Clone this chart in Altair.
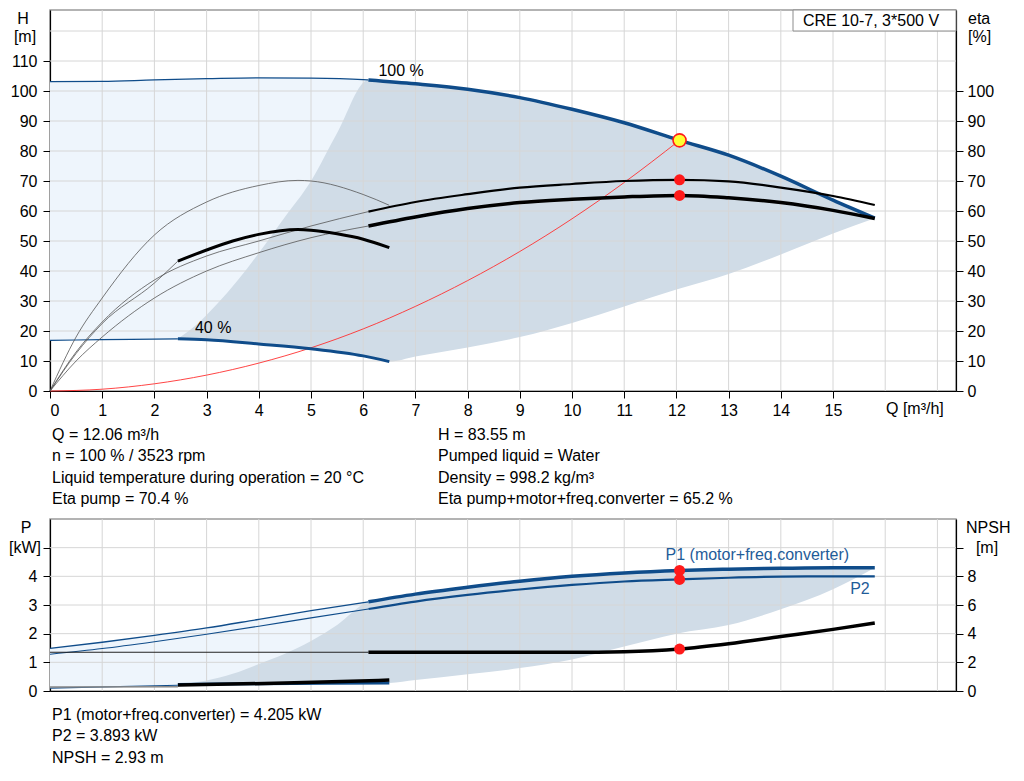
import altair as alt
import pandas as pd

FONT = "Liberation Sans"
BLUE = "#0f4c8a"
BLUE_TXT = "#1f5c99"
LIGHT = "#eef5fc"
DARK = "#d0dce7"
GRID = "#d6d6d6"
RED = "#ff1a1a"

# ---------------- head / efficiency panel ----------------
q_h100_thin = [0, 1, 2, 3, 4, 5, 6, 6.1]
h100_thin = [103.1, 103.2, 103.7, 104.1, 104.4, 104.3, 103.8, 103.7]
q_h100 = [6.1, 7, 8, 9, 10, 11, 12.06, 13, 14, 15, 15.8]
h100 = [103.7, 102.4, 100.6, 97.8, 93.9, 89.4, 83.55, 78.6, 71.6, 63.6, 57.6]
q_h40_thin = [0, 1, 2, 2.45]
h40_thin = [16.9, 17.1, 17.3, 17.4]
q_h40 = [2.45, 3, 4, 5, 6, 6.5]
h40 = [17.4, 17.1, 15.7, 14.1, 11.7, 9.8]

q_sys = [0, 1, 2, 3, 4, 5, 6, 7, 8, 9, 10, 11, 12.06]
h_sys = [0, 0.6, 2.4, 5.3, 9.3, 14.4, 20.7, 28.2, 36.8, 46.5, 57.4, 69.5, 83.55]

q_eta_low = [0, 0.5, 1, 2, 3, 4, 5, 6.1]
eta_p100_thin = [0, 13, 23, 37, 45, 50, 55, 59.8]
eta_t100_thin = [0, 10, 18, 31, 40, 46.1, 51.1, 55]
q_eta = [6.1, 7, 8, 9, 10, 11, 12.06, 13, 14, 15, 15.8]
eta_p100 = [59.8, 63, 65.6, 67.8, 69.0, 70.0, 70.4, 69.9, 67.8, 65.0, 62.0]
eta_t100 = [55, 58, 60.8, 62.8, 63.9, 64.7, 65.2, 64.4, 62.8, 60.2, 57.5]
q_eta40_pump = [0, 0.5, 1, 2, 3, 4, 4.75, 5, 6, 6.5]
eta_p40 = [0, 18, 31, 52, 63, 68.5, 70.2, 70, 65.5, 61.9]
q_eta40_thin = [0, 0.5, 1, 2, 2.45]
eta_t40_thin = [0, 12.5, 22.5, 36, 43.3]
q_eta40 = [2.45, 3, 3.5, 4, 4.75, 5, 5.5, 6, 6.5]
eta_t40 = [43.3, 47, 50, 52.2, 53.8, 53.6, 52.4, 50.6, 47.8]

light_q = [0, 1, 2, 3, 4, 5, 6, 6.1]
light_top = [103.1, 103.2, 103.7, 104.1, 104.4, 104.3, 103.8, 103.7]
light_bot = [16.9, 17.1, 17.3, 17.1, 15.7, 14.1, 11.7, 11.4]
dark_q = [2.45, 2.8, 3.2, 3.6, 4, 4.5, 5, 5.5, 6.1, 6.5, 7, 8, 9, 10, 11, 12, 13, 14, 15, 15.8]
dark_top = [17.4, 22, 29, 37, 46, 58, 70, 86, 103.7, 103.2, 102.4, 100.6, 97.8, 93.9,
            89.4, 83.9, 78.6, 71.6, 63.6, 57.6]
dark_bot = [17.4, 17.3, 17.0, 16.5, 15.7, 15.0, 14.1, 13.0, 11.4, 9.8, 11.5, 14.5, 18,
            22.7, 28.2, 33.8, 39, 45.5, 52.5, 57.6]

op_q = [12.06]
op_h = [83.55]
op_eta = [70.4, 65.2]

# ---------------- power / NPSH panel ----------------
q_p_thin = [0, 1, 2, 3, 4, 5, 6.1]
p1_thin = [1.49, 1.7, 1.94, 2.2, 2.5, 2.8, 3.11]
p2_thin = [1.28, 1.48, 1.72, 1.98, 2.26, 2.55, 2.86]
q_p = [6.1, 7, 8, 9, 10, 11, 12.06, 13, 14, 15, 15.8]
p1 = [3.11, 3.38, 3.62, 3.83, 4.0, 4.12, 4.205, 4.25, 4.28, 4.3, 4.3]
p2 = [2.86, 3.12, 3.35, 3.54, 3.7, 3.82, 3.893, 3.95, 3.99, 4.0, 4.0]
q_p40_thin = [0, 2.45]
p1_40_thin = [0.1, 0.2]
q_p40 = [2.45, 4, 6.5]
p1_40 = [0.23, 0.25, 0.28]

q_npsh_thin = [0, 3, 6.1]
npsh_thin = [2.7, 2.7, 2.7]
q_npsh = [6.1, 8, 10, 11, 12.06, 13, 14, 15, 15.8]
npsh = [2.7, 2.7, 2.7, 2.74, 2.93, 3.3, 3.8, 4.3, 4.75]
q_npsh40_thin = [0, 2.45]
npsh40_thin = [0.28, 0.3]
q_npsh40 = [2.45, 4.5, 6.5]
npsh40 = [0.42, 0.55, 0.76]

plight_q = [0, 1, 2, 3, 4, 5, 6.1]
plight_top = [1.49, 1.7, 1.94, 2.2, 2.5, 2.8, 3.11]
plight_bot = [0.1, 0.14, 0.18, 0.23, 0.24, 0.26, 0.27]
pdark_q = [2.45, 3, 3.5, 4, 4.5, 5, 5.5, 6.1, 6.5, 7, 8, 9, 10, 11, 12, 13, 14, 15, 15.8]
pdark_top = [0.23, 0.37, 0.6, 0.94, 1.3, 1.74, 2.3, 3.11, 3.22, 3.38, 3.62, 3.83, 4.0,
             4.12, 4.2, 4.25, 4.28, 4.3, 4.3]
pdark_bot = [0.23, 0.235, 0.24, 0.245, 0.25, 0.26, 0.27, 0.275, 0.28, 0.38, 0.58, 0.8,
             1.1, 1.55, 2.0, 2.3, 2.85, 3.55, 4.3]
op_p = [4.205, 3.893]
op_npsh = [2.93]

# ---------------- ticks / texts ----------------
x_ticks = list(range(0, 16))
grid_q = list(range(1, 18))
h_ticks = list(range(0, 111, 10))
grid_h = list(range(10, 121, 10))
eta_ticks = list(range(0, 101, 10))
p_ticks = [0, 1, 2, 3, 4, 5]
grid_p = [1, 2, 3, 4, 5]
npsh_ticks = [0, 2, 4, 6, 8, 10]

info_left = ["Q = 12.06 m³/h", "n = 100 % / 3523 rpm",
             "Liquid temperature during operation = 20 °C", "Eta pump = 70.4 %"]
info_right = ["H = 83.55 m", "Pumped liquid = Water", "Density = 998.2 kg/m³",
              "Eta pump+motor+freq.converter = 65.2 %"]
info_bottom = ["P1 (motor+freq.converter) = 4.205 kW", "P2 = 3.893 kW", "NPSH = 2.93 m"]
legend_text = "CRE 10-7, 3*500 V"

W = 906
H_TOP = 381
H_BOT = 172
XDOM = [0, 17.356]
HDOM = [0, 127]
PDOM = [0, 6]
NDOM = [0, 12]


def frame(q, v):
    return pd.DataFrame({"q": q, "v": v})


one = pd.DataFrame({"k": [0]})

xs = alt.Scale(domain=XDOM, nice=False, zero=False)
x_top_axis = alt.Axis(values=x_ticks, title=None, grid=False, tickSize=7, labelPadding=4,
                      format="d")
x_bot_axis = alt.Axis(title=None, grid=False, ticks=False, labels=False)
y_tl_axis = alt.Axis(values=h_ticks, title=None, grid=False, tickSize=7, labelPadding=6,
                     format="d")
y_tr_axis = alt.Axis(values=eta_ticks, title=None, grid=False, tickSize=7, labelPadding=4,
                     orient="right", format="d")
y_bl_axis = alt.Axis(values=p_ticks, title=None, grid=False, tickSize=7, labelPadding=6,
                     format="d", labelExpr="datum.value > 4 ? '' : datum.label")
y_br_axis = alt.Axis(values=npsh_ticks, title=None, grid=False, tickSize=7, labelPadding=4,
                     orient="right", format="d", labelExpr="datum.value > 8 ? '' : datum.label")


def xT(field="q"):
    return alt.X(f"{field}:Q", scale=xs, axis=x_top_axis)


def xB(field="q"):
    return alt.X(f"{field}:Q", scale=xs, axis=x_bot_axis)


def yTL(field="v"):
    return alt.Y(f"{field}:Q", scale=alt.Scale(domain=HDOM, nice=False), axis=y_tl_axis)


def yTR(field="v"):
    return alt.Y(f"{field}:Q", scale=alt.Scale(domain=HDOM, nice=False), axis=y_tr_axis)


def yBL(field="v"):
    return alt.Y(f"{field}:Q", scale=alt.Scale(domain=PDOM, nice=False), axis=y_bl_axis)


def yBR(field="v"):
    return alt.Y(f"{field}:Q", scale=alt.Scale(domain=NDOM, nice=False), axis=y_br_axis)


def line(q, v, color, width, xf, yf, opacity=1.0):
    return alt.Chart(frame(q, v)).mark_line(
        color=color, strokeWidth=width, interpolate="monotone", opacity=opacity
    ).encode(x=xf(), y=yf())


def area(q, top, bot, color, xf, yf):
    d = pd.DataFrame({"q": q, "top": top, "bot": bot})
    return alt.Chart(d).mark_area(color=color, interpolate="monotone", opacity=1).encode(
        x=xf(), y=yf("top"), y2=alt.Y2("bot:Q"))


def vgrid(xf):
    return alt.Chart(pd.DataFrame({"q": grid_q})).mark_rule(color=GRID, strokeWidth=1).encode(x=xf())


def hgrid(vals, yf):
    return alt.Chart(pd.DataFrame({"v": vals})).mark_rule(color=GRID, strokeWidth=1).encode(y=yf())


def label(txt, x, y, align="left", color="black", size=16):
    return alt.Chart(one).mark_text(
        align=align, baseline="middle", font=FONT, fontSize=size, color=color
    ).encode(x=alt.value(x), y=alt.value(y), text=alt.value(txt))


def block(lines, x, y):
    return alt.Chart(one).mark_text(
        align="left", baseline="alphabetic", font=FONT, fontSize=16, color="black",
        lineBreak="\n", lineHeight=21.4
    ).encode(x=alt.value(x), y=alt.value(y), text=alt.value("\n".join(lines)))


# ---------------- top panel ----------------
top_left = alt.layer(
    area(light_q, light_top, light_bot, LIGHT, xT, yTL),
    area(dark_q, dark_top, dark_bot, DARK, xT, yTL),
    vgrid(xT),
    hgrid(grid_h, yTL),
    line(q_sys, h_sys, "#ff3030", 0.9, xT, yTL),
    line(q_h100_thin, h100_thin, BLUE, 1.2, xT, yTL),
    line(q_h100, h100, BLUE, 3.5, xT, yTL),
    line(q_h40_thin, h40_thin, BLUE, 1.2, xT, yTL),
    line(q_h40, h40, BLUE, 3, xT, yTL),
    alt.Chart(frame([q_h100[0]], [h100[0]])).mark_text(
        align="left", baseline="middle", dx=10, dy=-9, font=FONT, fontSize=16, color="black"
    ).encode(x=xT(), y=yTL(), text=alt.value("100 %")),
    alt.Chart(frame([q_h40[0]], [h40[0]])).mark_text(
        align="left", baseline="middle", dx=17, dy=-11, font=FONT, fontSize=16, color="black"
    ).encode(x=xT(), y=yTL(), text=alt.value("40 %")),
    alt.Chart(frame(op_q, op_h)).mark_point(
        filled=True, fill="#ffff33", stroke=RED, strokeWidth=1.6, size=170, opacity=1
    ).encode(x=xT(), y=yTL()),
    alt.Chart(one).mark_rect(fill="white", stroke="#8c8c8c", strokeWidth=1).encode(
        x=alt.value(743), x2=alt.value(906), y=alt.value(0), y2=alt.value(21)),
    label(legend_text, 821, 11, align="center"),
    label("H", -27, 9, align="center"),
    label("[m]", -25, 27, align="center"),
    label("eta", 918, 9),
    label("[%]", 918, 27),
    label("Q [m³/h]", 836, 399),
    block(info_left, 2, 430),
    block(info_right, 388, 430),
)

top_right = alt.layer(
    line(q_eta_low, eta_p100_thin, "#555555", 0.8, xT, yTR),
    line(q_eta_low, eta_t100_thin, "#555555", 0.8, xT, yTR),
    line(q_eta40_pump, eta_p40, "#555555", 0.8, xT, yTR),
    line(q_eta40_thin, eta_t40_thin, "#555555", 0.8, xT, yTR),
    line(q_eta40, eta_t40, "black", 3, xT, yTR),
    line(q_eta, eta_p100, "black", 2.2, xT, yTR),
    line(q_eta, eta_t100, "black", 3.5, xT, yTR),
    alt.Chart(frame(op_q * 2, op_eta)).mark_circle(color=RED, size=120, opacity=1).encode(
        x=xT(), y=yTR()),
)

top = alt.layer(top_left, top_right).resolve_scale(y="independent").properties(
    width=W, height=H_TOP)

# ---------------- bottom panel ----------------
bot_left = alt.layer(
    area(plight_q, plight_top, plight_bot, LIGHT, xB, yBL),
    area(pdark_q, pdark_top, pdark_bot, DARK, xB, yBL),
    vgrid(xB),
    hgrid(grid_p, yBL),
    line(q_p40_thin, p1_40_thin, BLUE, 1.2, xB, yBL),
    line(q_p40, p1_40, BLUE, 3, xB, yBL),
    line(q_p_thin, p1_thin, BLUE, 1.3, xB, yBL),
    line(q_p_thin, p2_thin, BLUE, 1.1, xB, yBL),
    line(q_p, p1, BLUE, 3.5, xB, yBL),
    line(q_p, p2, BLUE, 2.2, xB, yBL),
    alt.Chart(frame(op_q * 2, op_p)).mark_circle(color=RED, size=120, opacity=1).encode(
        x=xB(), y=yBL()),
    alt.Chart(frame([op_q[0]], [op_p[0]])).mark_text(
        align="left", baseline="middle", dx=-14, dy=-15, font=FONT, fontSize=16, color=BLUE_TXT
    ).encode(x=xB(), y=yBL(), text=alt.value("P1 (motor+freq.converter)")),
    alt.Chart(frame([q_p[-1]], [p2[-1]])).mark_text(
        align="right", baseline="middle", dx=-5, dy=13, font=FONT, fontSize=16, color=BLUE_TXT
    ).encode(x=xB(), y=yBL(), text=alt.value("P2")),
    label("P", -24, 9, align="center"),
    label("[kW]", -25, 29, align="center"),
    label("NPSH", 916, 9),
    label("[m]", 937, 29, align="center"),
    block(info_bottom, 2, 201),
)

bot_right = alt.layer(
    line(q_npsh40_thin, npsh40_thin, "#888888", 1.5, xB, yBR),
    line(q_npsh40, npsh40, "black", 3.5, xB, yBR),
    line(q_npsh_thin, npsh_thin, "#222222", 1.1, xB, yBR),
    line(q_npsh, npsh, "black", 3.5, xB, yBR),
    alt.Chart(frame(op_q, op_npsh)).mark_circle(color=RED, size=120, opacity=1).encode(
        x=xB(), y=yBR()),
)

bottom = alt.layer(bot_left, bot_right).resolve_scale(y="independent").properties(
    width=W, height=H_BOT)

chart = alt.vconcat(top, bottom, spacing=128, bounds="flush").properties(
    padding={"left": 0, "top": 0, "right": 0, "bottom": 0}
).configure_view(
    stroke="#9a9a9a", strokeWidth=1.5
).configure_axis(
    labelFont=FONT, labelFontSize=16, labelColor="black",
    domainColor="black", domainWidth=1.2, tickColor="black", tickWidth=1
)

chart.save("out.html", embed_options={"renderer": "svg", "actions": False})
